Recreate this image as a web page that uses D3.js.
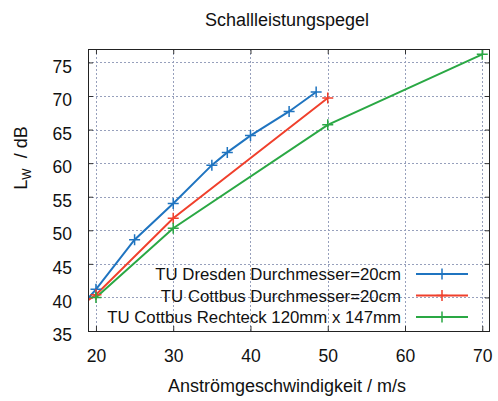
<!DOCTYPE html>
<html>
<head>
<meta charset="utf-8">
<script src="https://cdn.jsdelivr.net/npm/d3@7"></script>
<style>
  body { margin: 0; background: #fff; }
  svg { font-family: "Liberation Sans", Arial, sans-serif; }
</style>
</head>
<body>
<svg width="498" height="401"></svg>
<script>
const seriesNames = [
    'TU Dresden Durchmesser=20cm',
    'TU Cottbus Durchmesser=20cm',
    'TU Cottbus Rechteck 120mm x 147mm'
];
const seriesColors = ['#1f74c0', '#f0402c', '#2aa844'];

const speedDresden = [15, 20, 25, 30, 35, 37, 40, 45, 48.5];
const levelDresden = [34.5, 41.2, 48.6, 54.0, 59.7, 61.6, 64.1, 67.7, 70.6];

const speedCottbus = [15, 20, 30, 50];
const levelCottbus = [36.4, 40.4, 51.8, 69.7];

const speedRechteck = [20, 30, 50, 70];
const levelRechteck = [40.0, 50.3, 65.7, 76.2];

const xTicks = [20, 30, 40, 50, 60, 70];
const yTicks = [35, 40, 45, 50, 55, 60, 65, 70, 75];

const svg = d3.select('svg');
const width = +svg.attr('width');
const height = +svg.attr('height');
const margin = { top: 49, right: 8, bottom: 70, left: 88 };
const innerWidth = width - margin.left - margin.right;
const innerHeight = height - margin.top - margin.bottom;

const xScale = d3.scaleLinear().domain([18.97, 71]).range([0, innerWidth]);
const yScale = d3.scaleLinear().domain([35, 77]).range([innerHeight, 0]);

const series = [
    { xs: speedDresden, ys: levelDresden },
    { xs: speedCottbus, ys: levelCottbus },
    { xs: speedRechteck, ys: levelRechteck }
].map((s, i) => ({
    name: seriesNames[i],
    color: seriesColors[i],
    points: s.xs.map((x, j) => ({ x, y: s.ys[j] }))
}));

const g = svg.append('g')
    .attr('transform', `translate(${margin.left},${margin.top})`);

svg.append('defs').append('clipPath').attr('id', 'plot-clip')
    .append('rect').attr('width', innerWidth).attr('height', innerHeight);

// grid
const grid = g.append('g').attr('class', 'grid')
    .attr('stroke', '#97a0bc').attr('stroke-width', 1)
    .attr('stroke-dasharray', '2,2');
grid.selectAll('.gx').data(xTicks).enter().append('line')
    .attr('x1', d => Math.round(xScale(d)) + 0.5)
    .attr('x2', d => Math.round(xScale(d)) + 0.5)
    .attr('y1', 0).attr('y2', innerHeight);
grid.selectAll('.gy').data(yTicks).enter().append('line')
    .attr('y1', d => Math.round(yScale(d)) + 0.5)
    .attr('y2', d => Math.round(yScale(d)) + 0.5)
    .attr('x1', 0).attr('x2', innerWidth);

// axes, gnuplot style: inward ticks mirrored on all sides
const styleAxis = sel => {
    sel.select('.domain').remove();
    sel.selectAll('.tick line').attr('stroke', '#333');
    sel.selectAll('text')
        .attr('fill', '#111')
        .attr('font-size', 17.5);
};
const mirrorAxis = sel => {
    sel.select('.domain').remove();
    sel.selectAll('.tick line').attr('stroke', '#333');
    sel.selectAll('.tick text').remove();
};

g.append('g')
    .attr('transform', `translate(0,${innerHeight})`)
    .call(d3.axisBottom(xScale).tickValues(xTicks).tickSize(-5).tickPadding(19))
    .call(styleAxis);

g.append('g')
    .call(d3.axisTop(xScale).tickValues(xTicks).tickSize(-5))
    .call(mirrorAxis);

g.append('g')
    .call(d3.axisLeft(yScale).tickValues(yTicks).tickSize(-5).tickPadding(16))
    .call(styleAxis)
    .selectAll('text').attr('dy', '0.55em');

g.append('g')
    .attr('transform', `translate(${innerWidth},0)`)
    .call(d3.axisRight(yScale).tickValues(yTicks).tickSize(-5))
    .call(mirrorAxis);

// lines
const line = d3.line().x(d => xScale(d.x)).y(d => yScale(d.y));

const plot = g.append('g').attr('clip-path', 'url(#plot-clip)');

plot.selectAll('.series').data(series).enter().append('path')
    .attr('class', 'series')
    .attr('fill', 'none')
    .attr('stroke', d => d.color)
    .attr('stroke-width', 2)
    .attr('d', d => line(d.points));

const cross = (sel, size) => sel.attr('d', `M${-size},0H${size}M0,${-size}V${size}`);

series.forEach(s => {
    plot.selectAll(null).data(s.points).enter().append('path')
        .attr('transform', d => `translate(${xScale(d.x)},${yScale(d.y)})`)
        .attr('stroke', s.color)
        .attr('stroke-width', 1.5)
        .call(cross, 5.5);
});

// border
g.append('rect')
    .attr('x', 0.5).attr('y', 0.5)
    .attr('width', innerWidth - 1).attr('height', innerHeight)
    .attr('fill', 'none').attr('stroke', '#222').attr('stroke-width', 1);

// legend
const legendRowY = d3.scalePoint().domain(seriesNames).range([274, 317]);
const legend = svg.append('g');
const rows = legend.selectAll('.row').data(series).enter().append('g')
    .attr('transform', d => `translate(0,${legendRowY(d.name)})`);
rows.append('text')
    .attr('x', 401).attr('y', 6)
    .attr('text-anchor', 'end')
    .attr('font-size', 16.8)
    .attr('fill', '#111')
    .text(d => d.name);
rows.append('line')
    .attr('x1', 416).attr('x2', 468)
    .attr('stroke', d => d.color).attr('stroke-width', 2);
rows.append('path')
    .attr('transform', 'translate(442,0)')
    .attr('stroke', d => d.color).attr('stroke-width', 1.5)
    .call(cross, 5.5);

// title and axis labels
svg.append('text')
    .attr('x', 287).attr('y', 26)
    .attr('text-anchor', 'middle')
    .attr('font-size', 18)
    .attr('fill', '#111')
    .text('Schallleistungspegel');

svg.append('text')
    .attr('x', 287).attr('y', 392)
    .attr('text-anchor', 'middle')
    .attr('font-size', 18)
    .attr('fill', '#111')
    .text('Anströmgeschwindigkeit / m/s');

const yLabel = svg.append('text')
    .attr('transform', 'translate(27,158) rotate(-90)')
    .attr('text-anchor', 'middle')
    .attr('font-size', 18)
    .attr('fill', '#111')
    .style('white-space', 'pre');
yLabel.append('tspan').text('L');
yLabel.append('tspan').attr('font-size', 12).attr('dy', 4).text('W');
yLabel.append('tspan').attr('dy', -4).text('  / dB');
</script>
</body>
</html>
